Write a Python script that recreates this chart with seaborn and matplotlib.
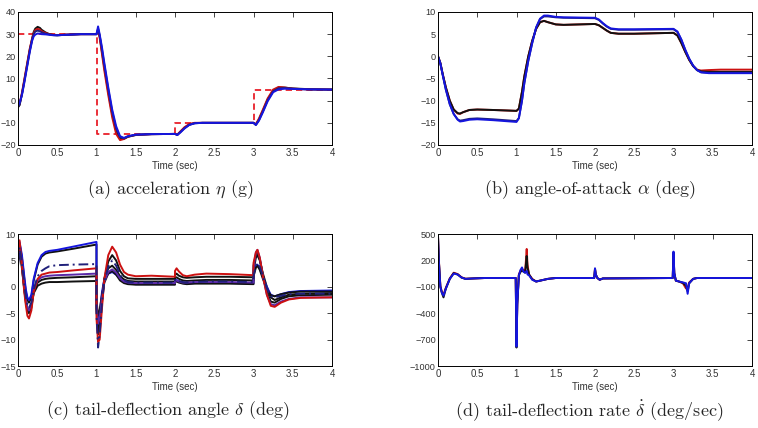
import matplotlib
matplotlib.use("Agg")
import matplotlib.pyplot as plt
import seaborn as sns

# ---- data ----
x_ticks = [0, 0.5, 1, 1.5, 2, 2.5, 3, 3.5, 4]
x_tick_labels = ["0", "0.5", "1", "1.5", "2", "2.5", "3", "3.5", "4"]

# (a) acceleration eta (g)
ref_t = [0, 1, 1, 2, 2, 3, 3, 4]
ref_eta = [30, 30, -15, -15, -10, -10, 5, 5]
t_a = [0, 0.02, 0.05, 0.08, 0.1, 0.12, 0.15, 0.18, 0.2, 0.22, 0.25, 0.28, 0.3, 0.35, 0.4,
       0.45, 0.5, 0.6, 0.8, 1.0, 1.02, 1.04, 1.07, 1.1, 1.15, 1.2, 1.25, 1.3, 1.35, 1.4,
       1.5, 1.7, 2.0, 2.03, 2.07, 2.12, 2.18, 2.25, 2.35, 2.5, 3.0, 3.03, 3.07, 3.12, 3.18,
       3.25, 3.32, 3.4, 3.5, 3.7, 4.0]
a_black = [-3, -2, 3, 9, 13, 17, 23, 28, 31, 32.5, 33.3, 32.8, 32, 30.8, 30,
           29.6, 29.5, 29.7, 30, 30, 32, 29, 22, 15, 4, -6, -13.5, -17, -17.2, -16.3,
           -15.5, -15.1, -15, -15.4, -14, -12.3, -10.8, -10.1, -10, -10, -10, -10.8, -8.5, -4.5, 0.5,
           4.5, 6, 5.9, 5.5, 5.2, 5]
a_red = [-2.5, -1.5, 3.5, 9.5, 13.5, 17.5, 23.5, 28, 30.5, 31.8, 32.4, 32, 31.4, 30.5, 30,
         29.7, 29.6, 29.8, 30, 30, 31.5, 28.5, 21, 13.5, 2.5, -7.5, -15, -17.8, -17.3, -16.2,
         -15.4, -15.1, -15, -15.3, -13.8, -12, -10.6, -10, -10, -10, -10, -10.6, -8, -4, 1,
         5, 6.2, 5.9, 5.4, 5.1, 5]
a_navy = [-2.8, -1.8, 2.8, 8.5, 12.5, 16.5, 22.5, 27.5, 30, 31.2, 31.6, 31.3, 30.9, 30.2, 29.9,
          29.6, 29.5, 29.7, 30, 30, 32.5, 29.5, 23, 16, 5, -5, -12.5, -16.5, -17, -16.2,
          -15.4, -15.1, -15, -15.4, -14.1, -12.4, -10.9, -10.2, -10, -10, -10, -10.9, -8.7, -4.8, 0.2,
          4.2, 5.6, 5.7, 5.4, 5.1, 5]
a_blue = [-2, -1, 2.5, 8, 12, 16, 22, 27, 29, 29.8, 30.3, 30.2, 30, 29.9, 29.7,
          29.5, 29.5, 29.7, 30, 30, 33.5, 30, 24, 17, 6, -4, -11.5, -16, -16.8, -16,
          -15.3, -15.1, -15, -15.5, -14.3, -12.6, -11, -10.2, -10, -10, -10, -11, -9, -5.2, -0.3,
          3.8, 5.1, 5.4, 5.3, 5.1, 5]

# (b) angle-of-attack alpha (deg)
t_b = [0, 0.03, 0.06, 0.1, 0.15, 0.2, 0.25, 0.28, 0.32, 0.4, 0.5, 0.7, 1.0, 1.03, 1.07,
       1.1, 1.15, 1.2, 1.25, 1.3, 1.35, 1.4, 1.5, 1.6, 2.0, 2.05, 2.1, 2.15, 2.2, 2.3,
       2.5, 3.0, 3.05, 3.1, 3.15, 3.2, 3.25, 3.3, 3.35, 3.45, 3.6, 4.0]
b_red = [0, -1.5, -4, -7, -10, -12, -12.9, -13.0, -12.6, -12.1, -12, -12.1, -12.3, -11.8, -8,
         -4.5, 0, 3.5, 6.2, 7.7, 8.0, 7.7, 7.2, 7.1, 7.3, 7.0, 6.4, 5.8, 5.3, 5.1,
         5.1, 5.3, 4.7, 3.0, 1.0, -0.8, -2.2, -3.0, -3.2, -3.1, -3.0, -3.0]
b_black = [0, -1.5, -4, -7, -10, -12, -12.8, -12.9, -12.6, -12.1, -12, -12.1, -12.3, -11.8, -8,
           -4.5, 0, 3.5, 6.2, 7.7, 8.0, 7.7, 7.2, 7.1, 7.3, 7.0, 6.4, 5.8, 5.3, 5.1,
           5.1, 5.3, 4.7, 3.0, 1.0, -0.8, -2.2, -3.1, -3.4, -3.5, -3.5, -3.5]
b_navy = [0, -1.6, -4.2, -7.5, -10.8, -13, -14.2, -14.5, -14.4, -14.1, -14.0, -14.2, -14.6, -13.9, -10,
          -6, -1, 3, 6.5, 8.4, 9.0, 9.0, 8.8, 8.7, 8.6, 8.2, 7.4, 6.7, 6.2, 6.0,
          6.0, 6.1, 5.5, 3.7, 1.4, -0.6, -2.1, -3.1, -3.6, -3.7, -3.7, -3.7]
b_blue = [0, -1.6, -4.2, -7.5, -10.8, -13, -14.3, -14.7, -14.6, -14.3, -14.2, -14.4, -14.8, -14.0, -10,
          -6, -1, 3, 6.5, 8.5, 9.2, 9.2, 8.9, 8.8, 8.7, 8.3, 7.5, 6.8, 6.3, 6.1,
          6.1, 6.2, 5.6, 3.8, 1.5, -0.5, -2.1, -3.1, -3.6, -3.8, -3.8, -3.8]

# (c) tail-deflection angle delta (deg)
t_c = [0, 0.02, 0.05, 0.08, 0.1, 0.12, 0.14, 0.17, 0.2, 0.25, 0.3, 0.35, 0.4, 0.5, 0.7,
       1.0, 1.0, 1.02, 1.04, 1.07, 1.1, 1.15, 1.2, 1.25, 1.3, 1.35, 1.4, 1.5, 1.7,
       2.0, 2.0, 2.02, 2.05, 2.1, 2.15, 2.25, 2.4, 2.7, 3.0, 3.0, 3.03, 3.05, 3.08, 3.12,
       3.17, 3.22, 3.27, 3.35, 3.45, 3.6, 4.0]
c_blue = [5.5, 8.5, 6, 2, -0.5, -2.0, -2.5, -1.5, 1.5, 4.5, 6.0, 6.6, 6.8, 7.0, 7.6,
          8.5, -3, -6, -5, -1, 1.5, 2.5, 2.8, 2.3, 1.5, 0.9, 0.6, 0.5, 0.5,
          0.5, 1.2, 1.3, 1.0, 0.7, 0.6, 0.7, 0.8, 0.7, 0.6, 2.5, 4.0, 4.2, 3.5, 1.8,
          0, -1.5, -1.8, -1.4, -1.0, -0.8, -0.7]
c_black1 = [5, 8.2, 5.5, 1.5, -1, -2.5, -3, -2, 1.2, 4.2, 5.7, 6.3, 6.5, 6.7, 7.2,
            8.0, -4, -8, -6.5, -2, 1.5, 3.5, 4.0, 3.2, 2.0, 1.4, 1.1, 1.0, 1.0,
            1.0, 1.6, 1.8, 1.5, 1.2, 1.1, 1.2, 1.3, 1.3, 1.2, 3.0, 5.5, 6.0, 5.0, 2.5,
            0, -2.0, -2.5, -2.0, -1.5, -1.3, -1.2]
c_navy = [4.5, 7.5, 4.5, 0.5, -2, -3.5, -4, -3, -0.5, 2.0, 3.0, 3.5, 3.9, 4.1, 4.2,
          4.3, -5, -11.5, -9, -3, 1.0, 3.8, 5.0, 4.0, 2.3, 1.3, 0.9, 0.8, 0.8,
          0.8, 1.3, 1.4, 1.1, 0.9, 0.8, 0.9, 1.0, 1.0, 0.9, 2.0, 4.0, 4.5, 3.8, 2.0,
          -0.3, -1.8, -2.0, -1.7, -1.4, -1.3, -1.3]
c_red = [6, 8.8, 4, -1, -3.5, -5.5, -6, -4.5, -1, 1.5, 2.3, 2.5, 2.7, 2.8, 3.1,
         3.5, -6, -10.5, -10, -4, 1.5, 6.0, 7.6, 6.5, 4.2, 2.8, 2.3, 2.0, 2.1,
         1.9, 3.0, 3.5, 2.9, 2.2, 2.0, 2.3, 2.5, 2.4, 2.2, 4.5, 6.5, 7.0, 5.5, 2.0,
         -1.5, -3.6, -3.8, -3.0, -2.4, -2.1, -2.0]
c_purple = [4.5, 7.8, 4.5, 0, -2.5, -4, -4.5, -3.5, -0.5, 1.2, 1.8, 2.0, 2.1, 2.2, 2.3,
            2.5, -3, -7, -6, -2, 1.0, 2.8, 3.3, 2.7, 1.6, 1.0, 0.8, 0.7, 0.7,
            0.7, 1.1, 1.2, 1.0, 0.8, 0.8, 0.9, 0.9, 0.9, 0.8, 3.5, 6.5, 7.0, 5.5, 2.0,
            -1.5, -3.3, -3.5, -2.8, -2.3, -2.0, -2.0]
c_black2 = [5, 8, 4, -0.5, -3, -4.5, -5, -4, -1, 0.8, 1.3, 1.5, 1.6, 1.7, 1.8,
            2.0, -4, -9, -8, -3, 1.5, 4.8, 6.0, 5.0, 3.0, 2.0, 1.6, 1.5, 1.5,
            1.5, 2.2, 2.5, 2.1, 1.8, 1.7, 1.8, 1.9, 1.9, 1.8, 4.0, 6.0, 6.5, 5.2, 2.2,
            -1.0, -2.8, -3.0, -2.3, -1.8, -1.6, -1.5]
c_black3 = [4, 7, 3.5, -0.5, -2.5, -4, -4.5, -3.5, -1.2, 0.2, 0.6, 0.8, 0.9, 0.9, 1.0,
            1.1, -2.5, -5.5, -4.5, -1.5, 0.8, 2.5, 3.0, 2.3, 1.2, 0.7, 0.5, 0.4, 0.4,
            0.4, 0.9, 1.0, 0.8, 0.6, 0.5, 0.6, 0.6, 0.6, 0.5, 2.0, 3.6, 4.0, 3.2, 1.5,
            -0.5, -1.6, -1.8, -1.4, -1.1, -0.9, -0.9]

# (d) tail-deflection rate (deg/sec)
t_d = [0, 0.01, 0.03, 0.05, 0.07, 0.1, 0.15, 0.2, 0.25, 0.3, 0.35, 0.45, 0.6, 0.99, 1.0,
       1.01, 1.03, 1.05, 1.07, 1.09, 1.11, 1.13, 1.14, 1.16, 1.2, 1.25, 1.3, 1.4, 1.5,
       1.99, 2.0, 2.01, 2.03, 2.06, 2.1, 2.99, 3.0, 3.01, 3.03, 3.07, 3.12, 3.16, 3.18,
       3.2, 3.25, 3.3, 4.0]
d_red = [480, 220, -90, -160, -190, -110, -5, 60, 45, 8, -8, -5, 0, 0, -760,
         -280, 40, 80, 100, 90, 70, 330, 150, 40, -10, -40, -30, -10, 0,
         0, 100, 35, 0, -20, -5, 0, 280, 50, -30, -40, -60, -120, -110,
         -50, -10, 0, 0]
d_black = [480, 210, -100, -170, -220, -120, -10, 55, 40, 5, -10, -5, 0, 0, -790,
           -300, 30, 70, 80, 75, 60, 250, 120, 40, -15, -40, -30, -10, 0,
           0, 105, 40, 0, -20, -5, 0, 290, 55, -30, -40, -55, -90, -150,
           -60, -10, 0, 0]
d_blue = [470, 200, -100, -170, -200, -120, -10, 50, 40, 5, -10, -5, 0, 0, -780,
          -300, 30, 90, 120, 70, 60, 80, 40, 30, -20, -40, -30, -10, 0,
          0, 110, 40, 0, -20, -5, 0, 300, 60, -30, -40, -50, -60, -180,
          -60, -10, 0, 0]

captions = [r"(a) acceleration $\eta$ (g)", r"(b) angle-of-attack $\alpha$ (deg)",
            r"(c) tail-deflection angle $\delta$ (deg)",
            r"(d) tail-deflection rate $\dot{\delta}$ (deg/sec)"]

# ---- styling ----
sns.set_style("white")
plt.rcParams["font.family"] = ["Liberation Sans", "DejaVu Sans"]
plt.rcParams["mathtext.fontset"] = "cm"
plt.rcParams["axes.unicode_minus"] = True

BLACK = "#111111"
RED = "#cc1111"
BLUE = "#1515dd"
NAVY = "#20207a"
PURPLE = "#5a28a8"
LW = 1.4

fig = plt.figure(figsize=(7.58, 4.28), dpi=100)
W, H = 758.0, 428.0


def make_axes(left, top, right, bottom):
    return fig.add_axes([left / W, 1 - bottom / H, (right - left) / W, (bottom - top) / H])


ax_a = make_axes(18, 12, 332, 145)
ax_b = make_axes(438, 12, 752, 145)
ax_c = make_axes(18, 234, 332, 366)
ax_d = make_axes(438, 234, 752, 366)


def draw(ax, t, y, color, ls="-", lw=LW):
    sns.lineplot(x=t, y=y, ax=ax, color=color, linestyle=ls, linewidth=lw,
                 sort=False, estimator=None, legend=False)


# (a)
draw(ax_a, ref_t, ref_eta, "#e8202a", ls=(0, (3.5, 2.2)), lw=1.3)
draw(ax_a, t_a, a_black, BLACK)
draw(ax_a, t_a, a_red, RED)
draw(ax_a, t_a, a_navy, NAVY)
draw(ax_a, t_a, a_blue, BLUE)

# (b)
draw(ax_b, t_b, b_red, RED)
draw(ax_b, t_b, b_black, BLACK)
draw(ax_b, t_b, b_navy, NAVY)
draw(ax_b, t_b, b_blue, BLUE)

# (c)
draw(ax_c, t_c, c_black1, BLACK)
draw(ax_c, t_c, c_blue, BLUE)
draw(ax_c, t_c, c_black3, BLACK)
draw(ax_c, t_c, c_black2, BLACK)
draw(ax_c, t_c, c_purple, PURPLE)
draw(ax_c, t_c, c_red, RED)
draw(ax_c, t_c, c_navy, NAVY, ls=(0, (5, 2, 1, 2)))

# (d)
draw(ax_d, t_d, d_red, RED)
draw(ax_d, t_d, d_black, BLACK)
draw(ax_d, t_d, d_blue, BLUE)

limits = [(ax_a, (-20, 40), [-20, -10, 0, 10, 20, 30, 40]),
          (ax_b, (-20, 10), [-20, -15, -10, -5, 0, 5, 10]),
          (ax_c, (-15, 10), [-15, -10, -5, 0, 5, 10]),
          (ax_d, (-1000, 500), [-1000, -700, -400, -100, 200, 500])]

for ax, ylim, yt in limits:
    ax.set_xlim(0, 4)
    ax.set_ylim(*ylim)
    ax.set_xticks(x_ticks)
    ax.set_xticklabels(x_tick_labels)
    ax.set_yticks(yt)
    ax.tick_params(direction="in", length=3.5, width=0.6, labelcolor="#333333",
                   top=True, right=True)
    ax.tick_params(axis="x", labelsize=7, pad=2.5)
    ax.tick_params(axis="y", labelsize=6.6, pad=1.5)
    for s in ax.spines.values():
        s.set_color("black")
        s.set_linewidth(0.7)
    ax.set_xlabel("Time (sec)", fontsize=7, color="#333333", labelpad=1.5)
    ax.set_ylabel("")

cap_pos = [(170, 190), (590, 190), (168, 411), (589, 411)]
for (cx, cy), txt in zip(cap_pos, captions):
    fig.text(cx / W, 1 - cy / H, txt, ha="center", va="center",
             fontsize=13, family="cmr10")

fig.savefig("out.png", dpi=100)
